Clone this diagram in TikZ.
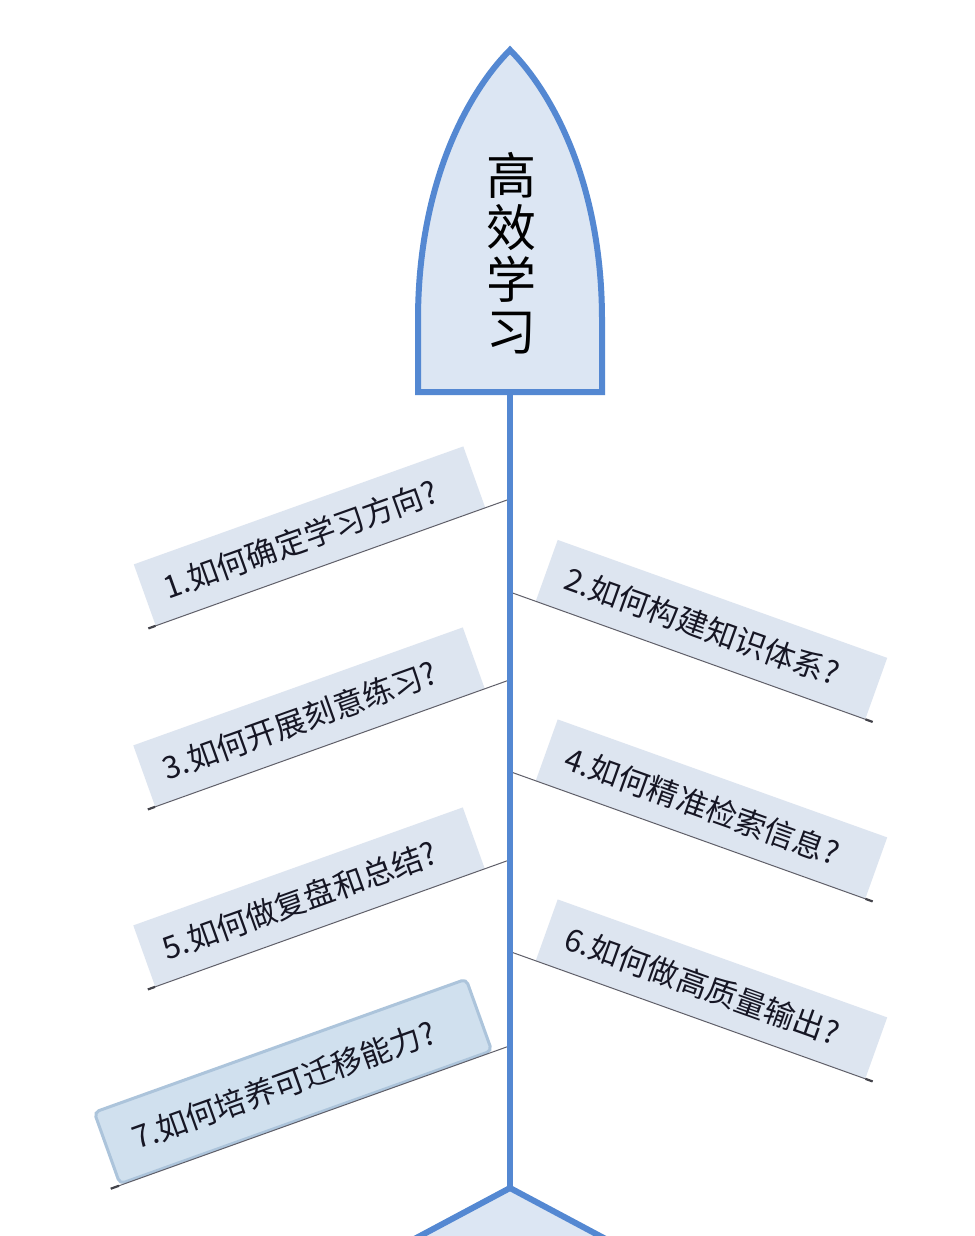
\documentclass[tikz,border=0pt]{standalone}
\usepackage{fontspec}
\setmainfont{Noto Sans CJK SC}
\usetikzlibrary{calc,intersections}
\definecolor{spineblue}{RGB}{84,136,210}
\definecolor{headfill}{RGB}{220,230,243}
\definecolor{boxfill}{RGB}{221,229,240}
\definecolor{selfill}{RGB}{208,224,238}
\definecolor{selborder}{RGB}{172,196,219}
\definecolor{inkcol}{RGB}{22,22,36}
\definecolor{branchcol}{RGB}{95,95,105}
\newcommand{\tshift}{\hspace*{-20pt}}
\begin{document}
\begin{tikzpicture}[x=1pt,y=-1pt,
  topic/.style={fill=boxfill, minimum width=350pt, minimum height=65pt, inner sep=0pt, text=inkcol, font=\fontsize{31}{34}\selectfont},
  seltopic/.style={topic, fill=selfill, draw=selborder, line width=3pt, rounded corners=5pt, minimum width=395pt, minimum height=76pt},
  branch/.style={draw=branchcol, line width=1pt},
  endtick/.style={draw=branchcol!70!black, line width=2.2pt},
  spine/.style={draw=spineblue, line width=6pt},
]
\useasboundingbox (0,0) rectangle (974,1236);
\fill[white] (0,0) rectangle (974,1236);
\clip (0,0) rectangle (974,1236);

% topic boxes
\node[topic, rotate=19.7]  (t1) at (309.5,536) {\tshift 1.如何确定学习方向?};
\node[topic, rotate=-19.7] (t2) at (711.5,629.5) {\tshift 2.如何构建知识体系?};
\node[topic, rotate=19.7]  (t3) at (309,717) {\tshift 3.如何开展刻意练习?};
\node[topic, rotate=-19.7] (t4) at (711.5,809) {\tshift 4.如何精准检索信息?};
\node[topic, rotate=19.7]  (t5) at (309,897) {\tshift 5.如何做复盘和总结?};
\node[topic, rotate=-19.7] (t6) at (711.5,989) {\tshift 6.如何做高质量输出?};
\node[seltopic, rotate=19.7] (t7) at (293,1081.5) {\tshift 7.如何培养可迁移能力?};

\coordinate (spinetop) at (510,392);
\coordinate (spinebot) at (510,1188);
\path[name path=spinepath] (spinetop) -- (spinebot);

% branches
\foreach \i in {1,3,5,7}{
  \coordinate (a\i) at (t\i.south west);
  \coordinate (b\i) at (t\i.south east);
  \path[name path=bl\i] ($(a\i)!-0.5!(b\i)$) -- ($(a\i)!1.5!(b\i)$);
  \path[name intersections={of=spinepath and bl\i, by=x\i}];
  \draw[branch] ($(a\i)!-0.02!(b\i)$) -- (x\i);
  \draw[endtick] ($(a\i)!-0.022!(b\i)$) -- (a\i);
}
\foreach \i in {2,4,6}{
  \coordinate (a\i) at (t\i.south west);
  \coordinate (b\i) at (t\i.south east);
  \path[name path=bl\i] ($(a\i)!-0.5!(b\i)$) -- ($(a\i)!1.5!(b\i)$);
  \path[name intersections={of=spinepath and bl\i, by=x\i}];
  \draw[branch] (x\i) -- ($(a\i)!1.02!(b\i)$);
  \draw[endtick] (b\i) -- ($(a\i)!1.022!(b\i)$);
}

% spine
\draw[spine] (spinetop) -- (spinebot);

% tail
\draw[spine, fill=headfill, line join=miter] (405,1244) -- (spinebot) -- (615,1244);

% head
\draw[spine, fill=headfill] (418,392) -- (418,320) .. controls (418,180) and (470,90) .. (510,50)
   .. controls (550,90) and (602,180) .. (602,320) -- (602,392) -- cycle;
\node[font=\fontsize{50}{52}\selectfont, text=black, align=center, inner sep=0pt] (head) at (511,253) {高\\效\\学\\习};
\end{tikzpicture}
\end{document}
